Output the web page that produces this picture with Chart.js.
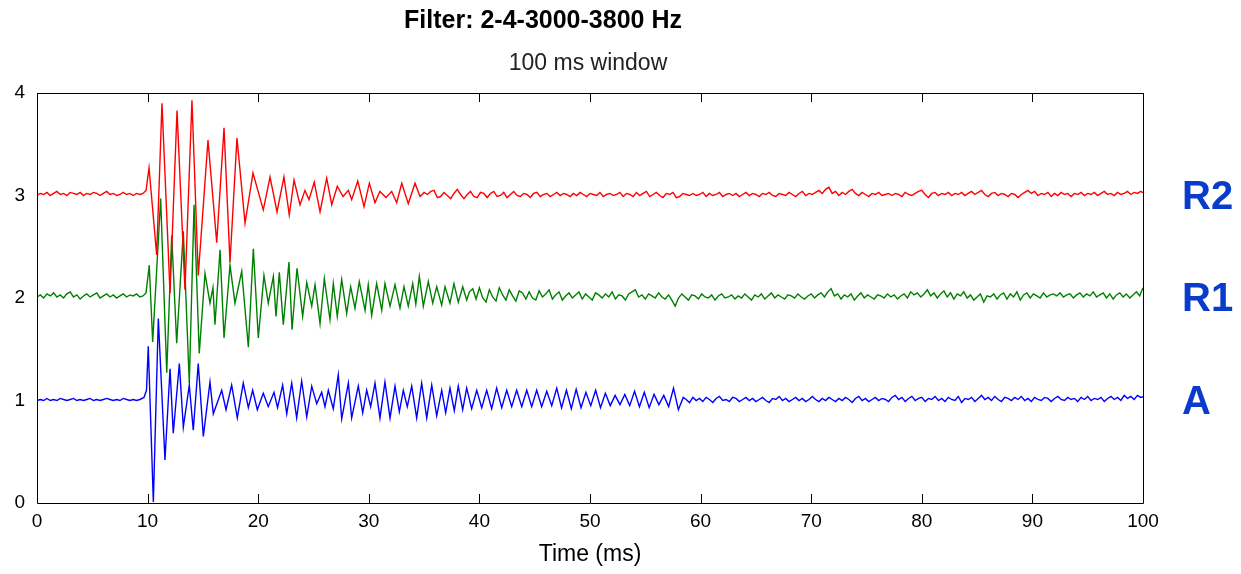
<!DOCTYPE html>
<html><head><meta charset="utf-8">
<script src="https://cdn.jsdelivr.net/npm/chart.js@4.4.1/dist/chart.umd.min.js"></script>
<style>html,body{margin:0;padding:0;background:#fff;overflow:hidden}</style>
</head><body>
<canvas id="c" width="1241" height="574" style="display:block;width:1241px;height:574px"></canvas>
<script>
// ---------- data ----------
const xTicks = [0,10,20,30,40,50,60,70,80,90,100];
const yTicks = [0,1,2,3,4];
const traceLabels = ['R2','R1','A'];
const traceLevels = [3,2,1];
const gridStep = 0.3;          // ms, sampling of the quiet parts
const preStart = 0;

// R2 (red)
const redPre = [3.00,3.02,3.01,3.03,3.00,3.02,3.04,3.01,3.02,3.00,3.03,3.02,3.01,3.03,3.00,3.02,3.01,3.03,3.02,3.00,3.02,3.04,3.01,3.02,3.00,3.01,3.03,3.01,3.02,3.00,3.02,3.01];
const redBurstT = [9.58,9.86,10.13,10.82,11.30,12.03,12.66,13.38,14.01,14.58,15.46,16.25,16.91,17.45,18.08,18.81,19.53,20.46,21.07,21.70,22.33,22.81,23.24,23.78,24.23,24.59,25.07,25.59,26.19,26.65,27.15,27.67,28.15,28.45,29.00,29.57,30.05,30.56,31.00,31.56,32.07,32.52,32.98,33.57,34.18,34.63,35.00];
const redBurstV = [3.02,3.05,3.27,2.42,3.90,2.05,3.83,2.08,3.93,2.22,3.54,2.54,3.66,2.35,3.56,2.73,3.22,2.86,3.18,2.84,3.18,2.81,3.15,2.91,3.05,2.96,3.13,2.84,3.17,2.91,3.09,2.99,3.05,2.96,3.14,2.89,3.12,2.93,3.04,2.98,3.04,2.93,3.12,2.92,3.12,2.99,3.03];
const redTailStart = 35.3;
const redTail = [
3.01,3.04,3.05,2.98,2.99,3.03,3.00,2.97,3.02,3.06,3.01,2.97,3.01,3.04,2.99,2.98,3.03,3.02,2.98,3.02,
3.04,2.99,3.00,3.03,2.98,3.01,3.04,3.00,2.99,3.02,3.01,2.98,3.02,3.03,2.99,3.01,3.02,2.99,3.01,3.03,
3.00,3.02,3.01,2.99,3.02,3.00,3.03,3.01,2.99,3.02,3.01,3.00,3.03,2.99,3.01,3.02,3.00,3.01,3.03,2.99,
3.02,3.01,2.99,3.03,3.00,3.02,3.04,2.99,3.01,3.03,3.00,2.98,3.02,3.01,3.03,2.98,2.99,3.02,3.01,3.00,
3.02,3.00,3.01,3.03,2.99,3.02,3.00,3.01,3.03,2.99,3.01,3.02,3.00,3.02,2.99,3.01,3.03,3.00,3.02,3.01,
2.99,3.02,3.01,3.03,3.00,2.99,3.02,3.01,3.00,3.03,3.01,2.99,3.02,3.04,3.00,3.02,3.01,3.03,3.05,3.02,
3.06,3.08,3.02,3.04,3.00,3.03,3.01,3.04,3.06,3.02,3.00,3.03,3.01,2.99,3.02,3.01,3.03,3.00,3.01,3.02,
3.00,3.02,3.01,2.99,3.03,3.01,3.00,3.02,3.04,3.05,3.01,2.98,3.02,3.03,3.00,3.02,3.01,3.03,3.00,3.02,
3.01,3.03,3.00,3.02,3.04,3.01,3.03,3.05,3.01,2.99,3.02,3.03,3.00,3.02,3.01,2.99,3.02,3.01,2.98,3.01,
3.03,3.05,3.02,3.04,3.00,3.02,3.01,3.03,2.99,3.02,3.00,3.03,3.01,3.02,2.99,3.02,3.01,3.03,3.00,3.02,
3.01,3.03,3.00,3.02,3.04,3.01,3.02,3.00,3.03,3.01,3.02,3.04,3.01,3.03,3.02,3.04,3.02];

// R1 (green)
const greenPre = [2.01,2.03,2.00,2.04,2.02,2.05,2.01,2.03,2.00,2.04,2.06,2.01,2.03,1.99,2.02,2.04,2.01,2.03,2.05,2.00,2.02,2.04,2.01,2.03,2.00,2.02,2.04,2.01,2.03,2.02,2.04,2.01];
const greenBurstT = [9.58,9.86,10.15,10.46,11.18,11.73,12.18,12.63,13.23,13.77,14.20,14.67,15.19,15.64,15.91,16.09,16.55,16.91,17.45,17.90,18.51,19.11,19.56,20.01,20.52,20.91,21.37,21.61,21.91,22.27,22.78,23.06,23.51,24.02,24.39,24.84,25.14,25.59,25.98,26.49,26.79,27.15,27.55,28.00,28.36,28.75,29.14,29.66,29.95,30.26,30.71,31.17,31.46,31.92,32.37,32.82,33.18,33.57,33.97,34.25,34.57,34.93,35.38,35.78,36.14,36.59,36.89,37.34,37.70,38.09,38.49,38.85,39.10];
const greenBurstV = [2.02,2.05,2.32,1.57,2.97,1.27,2.61,1.56,2.65,1.17,2.91,1.46,2.24,1.95,2.10,1.74,2.47,1.61,2.32,1.95,2.26,1.52,2.48,1.61,2.22,1.95,2.21,1.82,2.25,1.74,2.35,1.69,2.29,1.82,2.15,1.92,2.13,1.75,2.19,1.79,2.14,1.82,2.18,1.85,2.11,1.90,2.16,1.88,2.13,1.83,2.14,1.88,2.14,1.92,2.13,1.90,2.11,1.92,2.14,1.94,2.21,1.92,2.16,1.95,2.11,1.93,2.11,1.95,2.14,1.96,2.11,1.98,2.06];
const greenTailStart = 39.4;
const greenTail = [
2.09,1.99,2.10,2.00,1.96,2.08,2.01,1.97,2.10,2.03,1.98,2.08,2.02,1.97,2.07,2.05,1.99,2.06,2.00,1.98,
2.07,2.01,2.04,2.08,1.99,2.03,2.06,1.98,2.02,2.05,2.00,2.03,2.06,1.99,2.04,2.01,1.98,2.05,2.03,2.00,
2.04,2.01,2.06,1.99,2.03,2.02,1.98,2.04,2.06,2.08,2.01,2.03,1.99,2.04,2.02,2.00,2.05,2.01,1.99,2.03,
1.98,1.92,2.00,2.04,2.01,1.98,2.03,2.02,1.99,2.04,2.01,2.00,2.03,1.98,2.02,2.04,2.00,2.01,2.03,1.99,
2.02,2.00,2.04,2.01,1.98,2.03,2.01,2.04,1.99,2.02,2.05,2.00,2.03,2.01,1.99,2.03,2.02,2.00,2.04,2.01,
1.99,2.02,2.04,2.00,2.03,2.05,2.01,2.06,2.09,2.02,2.04,1.99,2.03,2.01,2.04,1.98,2.02,2.05,2.00,2.03,
2.01,1.99,2.03,2.02,2.00,2.04,2.01,2.03,1.99,2.02,2.04,2.00,2.06,2.03,2.05,2.01,2.04,2.08,2.02,2.05,
2.00,2.04,2.07,2.01,2.05,1.99,2.04,2.02,2.06,2.00,2.03,1.98,2.01,2.04,1.96,2.02,2.01,2.04,1.99,2.03,
2.05,1.99,2.04,2.01,2.06,1.98,2.03,2.05,2.00,2.04,2.02,2.00,2.05,2.01,2.03,2.04,2.02,2.05,2.01,2.03,
2.04,2.00,2.03,2.05,2.01,2.04,2.02,2.06,2.01,2.03,2.05,2.00,2.04,1.99,2.03,2.05,2.01,2.04,2.00,2.03,
2.06,2.02,2.10];

// A (blue)
const bluePre = [1.00,1.01,1.00,1.02,1.00,1.01,1.00,1.02,1.01,1.00,1.01,1.02,1.00,1.01,1.00,1.01,1.02,1.00,1.01,1.00,1.01,1.02,1.01,1.00,1.01,1.00,1.02,1.01,1.00,1.01,1.00,1.01];
const blueBurstT = [9.67,9.90,10.06,10.52,10.97,11.57,12.03,12.32,12.87,13.23,13.77,14.13,14.58,15.04,15.64,15.94,16.70,17.09,17.60,18.11,18.65,19.11,19.50,19.92,20.46,20.91,21.43,21.75,22.21,22.58,23.03,23.48,23.93,24.39,24.84,25.29,25.74,26.04,26.34,26.79,27.24,27.55,28.15,28.45,29.05,29.45,29.81,30.17,30.56,31.01,31.46,31.92,32.37,32.76,33.12,33.48,33.88,34.33,34.78,35.24,35.69,36.14,36.59,36.95,37.34,37.73,38.09,38.49,38.85,39.30,39.76,40.21,40.66,41.11,41.56,42.02,42.47,42.92,43.37,43.83,44.28,44.73,45.18,45.63,46.09,46.54,46.99,47.43,47.87,48.31,48.75,49.19,49.63,50.07,50.51,50.95,51.39,51.83,52.27,52.71,53.15,53.59,54.03,54.47,54.91,55.35,55.79,56.23,56.67,57.11,57.55,57.99,58.43];
const blueBurstV = [1.03,1.10,1.53,0.01,1.80,0.42,1.31,0.68,1.36,0.74,1.15,0.71,1.36,0.65,1.18,0.87,1.10,0.91,1.15,0.83,1.17,0.93,1.10,0.91,1.07,0.94,1.08,0.93,1.15,0.87,1.17,0.83,1.19,0.84,1.14,0.97,1.08,0.94,1.10,0.92,1.25,0.82,1.17,0.83,1.14,0.88,1.10,0.94,1.17,0.83,1.18,0.83,1.14,0.89,1.10,0.94,1.14,0.83,1.17,0.83,1.15,0.85,1.10,0.88,1.12,0.90,1.14,0.91,1.12,0.92,1.10,0.93,1.10,0.92,1.12,0.93,1.10,0.94,1.10,0.94,1.10,0.94,1.10,0.94,1.09,0.95,1.12,0.93,1.10,0.92,1.11,0.93,1.08,0.95,1.10,0.93,1.07,0.95,1.05,0.96,1.06,0.95,1.09,0.94,1.08,0.93,1.06,0.96,1.05,0.94,1.12,0.91,1.03];
const blueTailStart = 58.7;
const blueTail = [
1.01,0.98,1.03,1.00,1.02,0.99,1.03,1.01,0.98,1.02,1.04,1.00,1.01,0.99,1.03,1.02,0.99,1.01,1.03,1.00,
1.02,0.99,1.01,1.03,1.00,0.98,1.02,1.01,1.04,1.00,1.02,0.99,1.01,1.03,1.00,1.02,0.99,1.01,1.04,1.01,
0.99,1.02,1.00,1.03,1.01,0.99,1.02,1.00,1.03,1.01,0.98,1.02,1.04,1.00,1.02,0.99,1.01,1.03,1.00,1.02,
1.01,0.99,1.03,1.05,1.01,1.03,0.99,1.02,1.04,1.00,1.02,1.03,0.99,1.02,1.01,1.04,1.00,1.02,0.99,1.03,
1.01,1.00,1.04,0.98,1.02,1.01,1.03,0.99,1.02,1.05,1.01,1.03,1.00,1.04,1.01,0.99,1.03,1.02,1.00,1.03,
1.01,1.04,1.00,1.02,0.99,1.03,1.01,1.00,1.03,1.02,0.99,1.02,1.04,1.01,1.00,1.03,1.01,1.02,0.99,1.03,
1.01,1.04,1.00,1.02,1.01,1.03,0.99,1.02,1.04,1.01,1.03,1.00,1.05,1.02,1.04,1.01,1.05,1.03,1.04];

// ---------- build point lists ----------
function onGrid(start, vals){ return vals.map((v,i)=>({x: +(start + i*gridStep).toFixed(3), y: v})); }
function paired(ts, vs){ return ts.map((t,i)=>({x: t, y: vs[i]})); }
const redData   = [...onGrid(preStart, redPre),   ...paired(redBurstT, redBurstV),     ...onGrid(redTailStart, redTail)];
const greenData = [...onGrid(preStart, greenPre), ...paired(greenBurstT, greenBurstV), ...onGrid(greenTailStart, greenTail)];
const blueData  = [...onGrid(preStart, bluePre),  ...paired(blueBurstT, blueBurstV),   ...onGrid(blueTailStart, blueTail)];

const FONT = '"Liberation Sans", Arial, Helvetica, sans-serif';

const decor = {
  id: 'decor',
  afterDatasetsDraw(chart){
    const {ctx, chartArea: a, scales: {x, y}} = chart;
    ctx.save();
    ctx.strokeStyle = '#000';
    ctx.lineWidth = 1;
    ctx.beginPath();
    ctx.rect(Math.round(a.left)+0.5, Math.round(a.top)+0.5, Math.round(a.right-a.left), Math.round(a.bottom-a.top));
    xTicks.forEach(v => {
      const px = Math.round(x.getPixelForValue(v)) + 0.5;
      ctx.moveTo(px, a.bottom); ctx.lineTo(px, a.bottom - 9);
      ctx.moveTo(px, a.top);    ctx.lineTo(px, a.top + 9);
    });
    ctx.stroke();
    // right-hand trace labels
    ctx.fillStyle = '#0a3ccc';
    ctx.font = 'bold 40px ' + FONT;
    ctx.textAlign = 'left';
    ctx.textBaseline = 'middle';
    traceLabels.forEach((t, i) => ctx.fillText(t, 1182, y.getPixelForValue(traceLevels[i]) + 2));
    // titles
    ctx.fillStyle = '#000';
    ctx.textAlign = 'center';
    ctx.textBaseline = 'middle';
    ctx.font = 'bold 25px ' + FONT;
    ctx.fillText('Filter: 2-4-3000-3800 Hz', 543, 21);
    ctx.fillStyle = '#222';
    ctx.font = '23px ' + FONT;
    ctx.fillText('100 ms window', 588, 64);
    ctx.restore();
  }
};

new Chart(document.getElementById('c'), {
  type: 'scatter',
  data: { datasets: [
    { label: 'A',  data: blueData,  borderColor: '#0000ff', order: 0 },
    { label: 'R2', data: redData,   borderColor: '#ff0000', order: 1 },
    { label: 'R1', data: greenData, borderColor: '#008000', order: 2 }
  ]},
  options: {
    responsive: false,
    animation: false,
    events: [],
    showLine: true,
    elements: { point: { radius: 0 }, line: { borderWidth: 1.4, tension: 0, fill: false } },
    layout: { padding: { top: 93, right: 98, left: 0, bottom: 0 } },
    plugins: { legend: { display: false }, tooltip: { enabled: false }, title: { display: false } },
    scales: {
      x: {
        type: 'linear', min: 0, max: 100,
        afterBuildTicks: s => { s.ticks = xTicks.map(v => ({value: v})); },
        afterFit: s => { s.height = 71; },
        grid: { display: false, drawTicks: false },
        border: { display: false },
        ticks: { color: '#000', font: { family: FONT, size: 19 }, padding: 7, maxRotation: 0, autoSkip: false },
        title: { display: true, text: 'Time (ms)', color: '#000', font: { family: FONT, size: 23 }, padding: { top: 0, bottom: 6 } }
      },
      y: {
        type: 'linear', min: 0, max: 4,
        afterBuildTicks: s => { s.ticks = yTicks.map(v => ({value: v})); },
        afterFit: s => { s.width = 37; },
        grid: { display: false, drawTicks: false },
        border: { display: false },
        ticks: { color: '#000', font: { family: FONT, size: 19 }, padding: 12 }
      }
    }
  },
  plugins: [decor]
});
</script>
</body></html>
